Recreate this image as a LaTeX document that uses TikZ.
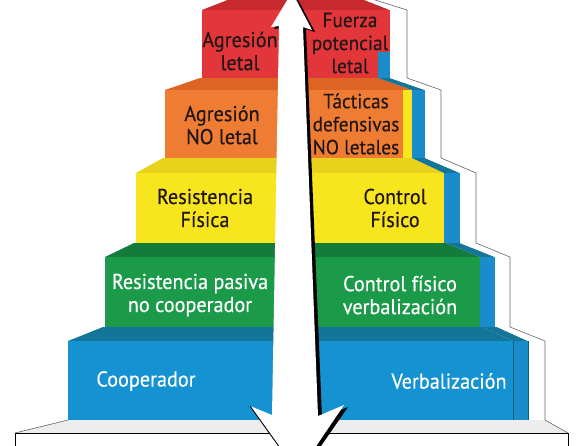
\documentclass[tikz,border=0pt]{standalone}
\usepackage{fontspec}
\setmainfont[FakeStretch=0.94,FakeBold=0.35]{PT Sans}
\definecolor{cRed}{HTML}{E2363B}
\definecolor{cRedT}{HTML}{C62A2F}
\definecolor{cOra}{HTML}{EE7D33}
\definecolor{cOraT}{HTML}{DD6422}
\definecolor{cYel}{HTML}{F7E51E}
\definecolor{cYelT}{HTML}{E9D21C}
\definecolor{cGre}{HTML}{1B9A4A}
\definecolor{cGreT}{HTML}{147C3B}
\definecolor{cBlu}{HTML}{1592D2}
\definecolor{cBluT}{HTML}{137598}
\definecolor{cStrip}{HTML}{1A8BCB}
\definecolor{cTxt}{HTML}{231616}
\begin{document}
\begin{tikzpicture}[x=1pt,y=-1pt,
  lbl/.style={font=\fontsize{21.5}{23}\selectfont, align=center, inner sep=0pt},
  lblnarrow/.style={font=\fontsize{20.5}{23}\selectfont, align=center, inner sep=0pt},
  darktext/.style={text=cTxt},
  lighttext/.style={text=white},
  edgeline/.style={draw=black!60, line width=0.6pt},
  stripline/.style={draw=cBluT!80!black, line width=0.6pt}]
\useasboundingbox (0,0) rectangle (580,445);
\clip (0,0) rectangle (580,445);
\fill[white] (0,0) rectangle (580,445);
% base
\fill[gray!14] (15,433)--(68,420)--(545,420)--(568,433)--cycle;
\draw[edgeline] (15,433)--(68,420) (545,420)--(568,433);
\draw[black, line width=0.8pt, fill=white] (15,433) rectangle (568,452);
% ---------- level 1 (blue)
\fill[cBluT] (68,341)--(103,327)--(482,327)--(513,341)--cycle;
\fill[cBluT] (513,341)--(528,341)--(497,327)--(482,327)--cycle;
\fill[white] (528,341)--(545,341)--(510,327)--(497,327)--cycle;
\draw[edgeline] (545,420)--(545,341)--(510,327);
\fill[cBlu] (68,341) rectangle (513,420);
\fill[cStrip] (513,341) rectangle (528,420);
\draw[stripline] (513,341)--(513,420) (528,341)--(528,420);
% ---------- level 2 (green)
\fill[cGreT] (105,257)--(134,243)--(446,243)--(480,257)--cycle;
\fill[cBluT] (480,257)--(495,257)--(460,243)--(446,243)--cycle;
\fill[white] (495,257)--(510,257)--(476,243)--(460,243)--cycle;
\draw[edgeline] (510,327)--(510,257)--(476,243);
\fill[cGre] (105,257) rectangle (480,327);
\fill[cStrip] (480,257) rectangle (495,327);
% ---------- level 3 (yellow)
\fill[cYelT] (136,173)--(163,158)--(412,158)--(444,173)--cycle;
\fill[cBluT] (444,173)--(460,173)--(425,158)--(412,158)--cycle;
\fill[white] (460,173)--(476,173)--(441,158)--(425,158)--cycle;
\draw[edgeline] (476,243)--(476,173)--(441,158);
\fill[cYel] (136,173) rectangle (444,243);
\fill[cStrip] (444,173) rectangle (460,243);
% ---------- level 4 (orange)
\fill[cOraT] (165,90)--(200,78)--(378,78)--(412,90)--cycle;
\fill[cBluT] (412,90)--(425,90)--(390,78)--(378,78)--cycle;
\fill[white] (425,90)--(441,90)--(407,78)--(390,78)--cycle;
\draw[edgeline] (441,158)--(441,90)--(407,78);
\fill[cOra] (165,90) rectangle (403,158);
\fill[cYel] (403,90) rectangle (412,158);
\fill[cStrip] (412,90) rectangle (425,158);
% ---------- level 5 (red)
\fill[cRedT] (202,10)--(230,-1)--(362,-1)--(390,10)--cycle;
\fill[white] (390,10)--(407,10)--(372,-1)--(362,-1)--cycle;
\draw[edgeline] (407,78)--(407,10)--(372,-1);
\fill[cRed] (202,10) rectangle (390,78);
\fill[cStrip] (378,52) rectangle (390,78);
% ---------- arrow
\fill[black] (295,-6)--(315,32)--(306,29)--(322,418)--(348,407)--(301,475)--(253,408)--(275,417)--(282,28)--(274,29)--cycle;
\fill[white] (292,-8)--(312,30)--(303,27)--(318,416)--(344,405)--(298,473)--(250,406)--(272,415)--(279,26)--(271,27)--cycle;
\draw[black, line width=0.9pt] (250,406)--(298,473);
% ---------- labels
\node[lbl,darktext] (t5l) at (240,51) {Agresión\\letal};
\node[lblnarrow,darktext] (t5r) at (350,43) {Fuerza\\potencial\\letal};
\node[lbl,darktext] (t4l) at (222,125) {Agresión\\NO letal};
\node[lblnarrow,darktext] (t4r) at (356,124) {Tácticas\\defensivas\\NO letales};
\node[lbl,darktext] (t3l) at (205,208) {Resistencia\\Física};
\node[lbl,darktext] (t3r) at (395,208) {Control\\Físico};
\node[lbl,lighttext] (t2l) at (190,295) {Resistencia pasiva\\no cooperador};
\node[lbl,lighttext] (t2r) at (400,295) {Control físico\\verbalización};
\node[lbl,lighttext] (t1l) at (146,381) {Cooperador};
\node[lbl,lighttext] (t1r) at (449,381) {Verbalización};
\end{tikzpicture}
\end{document}
